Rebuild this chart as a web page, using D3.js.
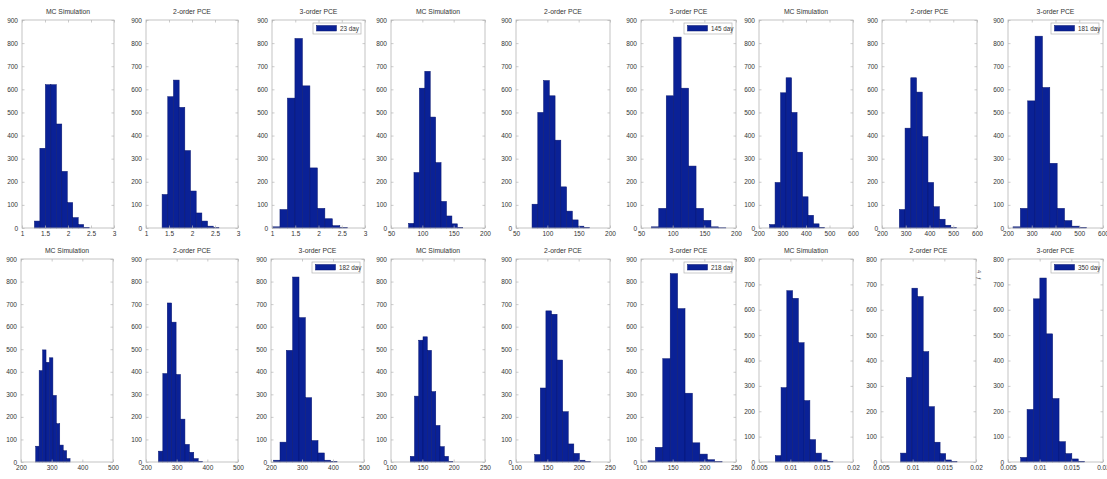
<!DOCTYPE html>
<html>
<head>
<meta charset="utf-8">
<script src="https://cdn.jsdelivr.net/npm/d3@7"></script>
<style>
body { margin: 0; background: #fff; }
svg text { font-family: "Liberation Sans", Arial, sans-serif; fill: #333; }
</style>
</head>
<body>
<script>

// subplot titles (same three in every group) and the legend of each group
var titles = ["MC Simulation", "2-order PCE", "3-order PCE"];
var days = ["23 day", "145 day", "181 day", "182 day", "218 day", "350 day"];

// x axis of each group
var x_domains = [[1, 3], [50, 200], [200, 600], [200, 500], [100, 250], [0.005, 0.02]];
var x_ticks = [
    [1, 1.5, 2, 2.5, 3],
    [50, 100, 150, 200],
    [200, 300, 400, 500, 600],
    [200, 300, 400, 500],
    [100, 150, 200, 250],
    [0.005, 0.01, 0.015, 0.02]
];
var x_labels = [
    ["1", "1.5", "2", "2.5", "3"],
    ["50", "100", "150", "200"],
    ["200", "300", "400", "500", "600"],
    ["200", "300", "400", "500"],
    ["100", "150", "200", "250"],
    ["0.005", "0.01", "0.015", "0.02"]
];
var y_max = [900, 900, 900, 900, 900, 800];

// first and last bin edge of every histogram (10 equal bins), panel order left->right, top->bottom
var bin_ranges = [
    [1.27, 2.46], [1.35, 2.585], [1.01, 2.62],
    [78, 164.5], [75.6, 167.5], [66.3, 184],
    [245, 479], [273, 514], [221, 531],
    [248, 360], [240.5, 384.6], [208.6, 413],
    [130.7, 198.6], [129.9, 219], [111, 228],
    [0.0076, 0.0168], [0.0081, 0.017], [0.0070, 0.0171]
];

// counts per bin
var counts = [
    [30, 345, 620, 620, 450, 245, 110, 45, 15, 3],
    [145, 568, 640, 522, 335, 160, 65, 30, 8, 2],
    [5, 80, 562, 820, 615, 260, 85, 40, 10, 2],

    [20, 240, 605, 678, 480, 283, 115, 52, 18, 3],
    [103, 500, 638, 572, 380, 178, 73, 35, 8, 2],
    [5, 85, 572, 826, 605, 268, 85, 33, 5, 1],

    [15, 197, 585, 650, 500, 328, 135, 55, 18, 3],
    [80, 432, 650, 588, 395, 197, 92, 38, 12, 2],
    [5, 85, 550, 830, 608, 280, 85, 32, 8, 2],

    [70, 405, 497, 442, 462, 295, 170, 75, 50, 15],
    [48, 392, 705, 620, 388, 190, 78, 43, 15, 3],
    [8, 88, 495, 820, 640, 285, 95, 40, 8, 3],

    [25, 292, 540, 555, 495, 312, 162, 68, 25, 3],
    [33, 328, 670, 655, 452, 223, 80, 38, 8, 2],
    [5, 65, 458, 835, 680, 305, 85, 35, 10, 2],

    [25, 293, 675, 645, 470, 242, 88, 35, 8, 2],
    [35, 333, 685, 652, 435, 218, 78, 33, 8, 2],
    [18, 207, 643, 725, 505, 250, 80, 33, 12, 3]
];

// layout of the 2 x 9 subplots
var col_left = [
    [22, 146, 272, 391, 516, 641, 759, 882, 1008],
    [21, 146, 271, 391, 516, 641, 759, 881, 1008]
];
var col_width = [92, 92, 93, 94, 94, 95, 94, 95, 95];
var row_top = [20, 259];
var row_bottom = [228, 462];

var bar_fill = "#0a2196";
var bar_edge = "#06146e";
var frame_color = "#b4b4b4";

var svg = d3.select("body").append("svg")
    .attr("width", 1107)
    .attr("height", 479);

function draw_panel(row, col) {
    var p = row * 9 + col;
    var g = row * 3 + Math.floor(col / 3);
    var k = col % 3;

    var left = col_left[row][col];
    var right = left + col_width[col];
    var top = row_top[row];
    var bottom = row_bottom[row];

    var xs = d3.scaleLinear().domain(x_domains[g]).range([left, right]);
    var ys = d3.scaleLinear().domain([0, y_max[g]]).range([bottom, top]);

    var panel = svg.append("g");

    // histogram bars
    var lo = bin_ranges[p][0], hi = bin_ranges[p][1];
    var w = (hi - lo) / counts[p].length;
    panel.selectAll("rect.bar")
        .data(counts[p])
        .enter()
        .append("rect")
        .attr("class", "bar")
        .attr("x", function (d, i) { return xs(lo + i * w); })
        .attr("width", function (d, i) { return xs(lo + (i + 1) * w) - xs(lo + i * w); })
        .attr("y", function (d) { return ys(d); })
        .attr("height", function (d) { return ys(0) - ys(d); })
        .attr("fill", bar_fill)
        .attr("stroke", bar_edge)
        .attr("stroke-width", 0.5);

    // frame
    panel.append("rect")
        .attr("x", left).attr("y", top)
        .attr("width", right - left).attr("height", bottom - top)
        .attr("fill", "none")
        .attr("stroke", frame_color)
        .attr("stroke-width", 0.8);

    var y_vals = d3.range(0, y_max[g] + 1, 100);

    // axes, ticks pointing inward like matlab
    var ax_l = panel.append("g").attr("transform", "translate(" + left + ",0)")
        .call(d3.axisLeft(ys).tickValues(y_vals).tickSize(-2.5).tickPadding(4).tickFormat(d3.format("d")));
    var ax_r = panel.append("g").attr("transform", "translate(" + right + ",0)")
        .call(d3.axisRight(ys).tickValues(y_vals).tickSize(-2.5).tickFormat(""));
    var ax_b = panel.append("g").attr("transform", "translate(0," + bottom + ")")
        .call(d3.axisBottom(xs).tickValues(x_ticks[g]).tickSize(-2.5).tickPadding(3)
            .tickFormat(function (d, i) { return x_labels[g][i]; }));
    var ax_t = panel.append("g").attr("transform", "translate(0," + top + ")")
        .call(d3.axisTop(xs).tickValues(x_ticks[g]).tickSize(-2.5).tickFormat(""));

    [ax_l, ax_r, ax_b, ax_t].forEach(function (ax) {
        ax.select(".domain").remove();
        ax.selectAll("line").attr("stroke", frame_color).attr("stroke-width", 0.7);
        ax.selectAll("text")
            .attr("font-family", "Liberation Sans, Arial, sans-serif")
            .attr("font-size", 6.5)
            .attr("fill", "#333");
    });

    // title
    panel.append("text")
        .attr("x", (left + right) / 2)
        .attr("y", top - 6)
        .attr("text-anchor", "middle")
        .attr("font-size", 6.8)
        .text(titles[k]);

    // legend in the last subplot of each group
    if (k === 2) {
        var lx = right - 52, ly = top + 3;
        panel.append("rect")
            .attr("x", lx).attr("y", ly)
            .attr("width", 48).attr("height", 11)
            .attr("fill", "#fff")
            .attr("stroke", frame_color)
            .attr("stroke-width", 0.7);
        panel.append("rect")
            .attr("x", lx + 3.5).attr("y", ly + 2.5)
            .attr("width", 20).attr("height", 5.5)
            .attr("fill", bar_fill)
            .attr("stroke", bar_edge)
            .attr("stroke-width", 0.5);
        panel.append("text")
            .attr("x", lx + 27).attr("y", ly + 7.8)
            .attr("font-size", 6.3)
            .text(days[g]);
    }
}

for (var r = 0; r < 2; r++) {
    for (var c = 0; c < 9; c++) {
        draw_panel(r, c);
    }
}

// stray glyphs left over in the source figure
svg.append("text").attr("x", 979).attr("y", 272).attr("font-size", 5.5)
    .attr("transform", "rotate(90,979,270)").text("4");
svg.append("text").attr("x", 979).attr("y", 279).attr("font-size", 5.5)
    .attr("transform", "rotate(90,979,277)").text("ƒ");

</script>
</body>
</html>
